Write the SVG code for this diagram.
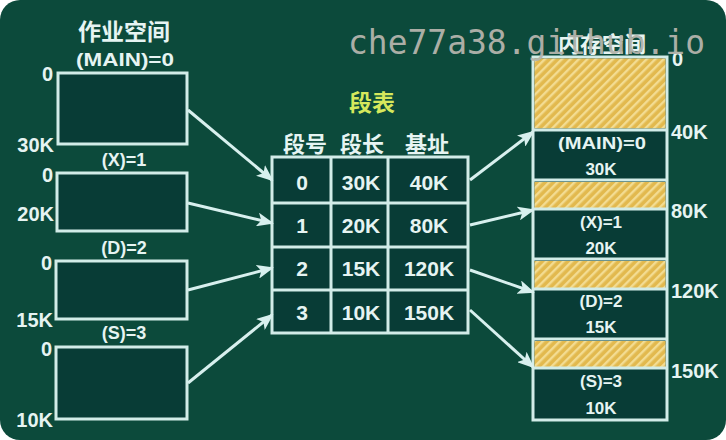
<svg xmlns="http://www.w3.org/2000/svg" width="726" height="440" viewBox="0 0 726 440">
<defs>
<style>
.t{font-family:"Liberation Sans","Noto Sans CJK SC",sans-serif;font-weight:bold;fill:#e6f4f2;text-anchor:middle;dominant-baseline:central}
.cn{font-family:"Noto Sans CJK SC","Liberation Sans",sans-serif;font-weight:bold;fill:#e6f4f2;text-anchor:middle;dominant-baseline:central}
.r{text-anchor:end}
.l{text-anchor:start}
.box{fill:#083c36;stroke:#d2ece8;stroke-width:3}
.line{stroke:#d2ece8;stroke-width:3;fill:none}
.conn{stroke:#d8f0ee;stroke-width:3;fill:none;marker-end:url(#ah)}
.hat{fill:url(#hatch);stroke:none}
</style>
<pattern id="hatch" patternUnits="userSpaceOnUse" width="6" height="6" patternTransform="rotate(45)">
<rect width="6" height="6" fill="#e2b94e"/>
<rect width="2.4" height="6" fill="#f3dc92"/>
</pattern>
<marker id="ah" markerWidth="17" markerHeight="14" refX="15" refY="7" orient="auto" markerUnits="userSpaceOnUse">
<path d="M0,0 L17,7 L0,14 L4,7 Z" fill="#d8f0ee"/>
</marker>
</defs>
<rect width="726" height="440" fill="#ffffff"/>
<rect width="726" height="440" rx="20" fill="#0c4a3b"/>

<g id="job-space">
<text class="cn" x="124" y="30" font-size="23">作业空间</text>
<g id="job-main">
<text class="t" x="125" y="60" font-size="18" textLength="98" lengthAdjust="spacingAndGlyphs">(MAIN)=0</text>
<rect class="box" x="58" y="73" width="129" height="71"/>
<text class="t r" x="53" y="74" font-size="20">0</text>
<text class="t r" x="54" y="145" font-size="20">30K</text>
</g>
<g id="job-x">
<text class="t" x="124" y="160" font-size="18">(X)=1</text>
<rect class="box" x="57" y="173" width="130" height="58"/>
<text class="t r" x="53" y="175" font-size="20">0</text>
<text class="t r" x="54" y="214" font-size="20">20K</text>
</g>
<g id="job-d">
<text class="t" x="124" y="248" font-size="18">(D)=2</text>
<rect class="box" x="56" y="261" width="131" height="58"/>
<text class="t r" x="52" y="263" font-size="20">0</text>
<text class="t r" x="53" y="320" font-size="20">15K</text>
</g>
<g id="job-s">
<text class="t" x="124" y="333" font-size="18">(S)=3</text>
<rect class="box" x="56" y="347" width="131" height="72"/>
<text class="t r" x="52" y="349" font-size="20">0</text>
<text class="t r" x="53" y="420" font-size="20">10K</text>
</g>
</g>

<g id="segment-table">
<text class="cn" x="372" y="101" font-size="23" style="fill:#d6e85c">段表</text>
<text class="cn" x="305" y="142" font-size="22">段号</text>
<text class="cn" x="362" y="142" font-size="22">段长</text>
<text class="cn" x="427" y="142" font-size="22">基址</text>
<rect class="box" x="272" y="157" width="196" height="176"/>
<line class="line" x1="272" y1="203" x2="468" y2="203"/>
<line class="line" x1="272" y1="247" x2="468" y2="247"/>
<line class="line" x1="272" y1="290" x2="468" y2="290"/>
<line class="line" x1="331" y1="157" x2="331" y2="333"/>
<line class="line" x1="388" y1="157" x2="388" y2="333"/>
<text class="t" x="302" y="182" font-size="21">0</text>
<text class="t" x="361" y="182" font-size="21">30K</text>
<text class="t" x="429" y="182" font-size="21">40K</text>
<text class="t" x="302" y="225" font-size="21">1</text>
<text class="t" x="361" y="225" font-size="21">20K</text>
<text class="t" x="429" y="225" font-size="21">80K</text>
<text class="t" x="302" y="268" font-size="21">2</text>
<text class="t" x="361" y="268" font-size="21">15K</text>
<text class="t" x="429" y="268" font-size="21">120K</text>
<text class="t" x="302" y="312" font-size="21">3</text>
<text class="t" x="361" y="312" font-size="21">10K</text>
<text class="t" x="429" y="312" font-size="21">150K</text>
</g>

<g id="memory">
<text class="cn" x="602" y="42" font-size="22">内存空间</text>
<rect class="box" x="533" y="57" width="134" height="363"/>
<rect class="hat" x="534.5" y="58.5" width="131" height="70"/>
<rect class="hat" x="534.5" y="182" width="131" height="27"/>
<rect class="hat" x="534.5" y="261" width="131" height="27"/>
<rect class="hat" x="534.5" y="341" width="131" height="26"/>
<line class="line" x1="533" y1="130" x2="667" y2="130"/>
<line class="line" x1="533" y1="180" x2="667" y2="180"/>
<line class="line" x1="533" y1="209" x2="667" y2="209"/>
<line class="line" x1="533" y1="259" x2="667" y2="259"/>
<line class="line" x1="533" y1="289" x2="667" y2="289"/>
<line class="line" x1="533" y1="339" x2="667" y2="339"/>
<line class="line" x1="533" y1="368" x2="667" y2="368"/>
<text class="t" x="602" y="143" font-size="17" textLength="88" lengthAdjust="spacingAndGlyphs">(MAIN)=0</text>
<text class="t" x="601" y="169" font-size="17">30K</text>
<text class="t" x="601" y="222" font-size="17">(X)=1</text>
<text class="t" x="601" y="248" font-size="17">20K</text>
<text class="t" x="601" y="301" font-size="17">(D)=2</text>
<text class="t" x="601" y="327" font-size="17">15K</text>
<text class="t" x="601" y="381" font-size="17">(S)=3</text>
<text class="t" x="601" y="408" font-size="17">10K</text>
<text class="t l" x="672" y="59" font-size="20">0</text>
<text class="t l" x="671" y="132" font-size="20">40K</text>
<text class="t l" x="671" y="211" font-size="20">80K</text>
<text class="t l" x="671" y="291" font-size="20">120K</text>
<text class="t l" x="671" y="371" font-size="20">150K</text>
</g>

<g id="connectors">
<line class="conn" x1="188" y1="110" x2="272" y2="180"/>
<line class="conn" x1="188" y1="203" x2="272" y2="223"/>
<line class="conn" x1="188" y1="290" x2="272" y2="268"/>
<line class="conn" x1="188" y1="383" x2="272" y2="315"/>
<line class="conn" x1="470" y1="180" x2="533" y2="132"/>
<line class="conn" x1="470" y1="225" x2="533" y2="210"/>
<line class="conn" x1="470" y1="270" x2="533" y2="292"/>
<line class="conn" x1="470" y1="310" x2="533" y2="367"/>
</g>

<text x="348" y="54" font-family="DejaVu Sans Mono, monospace" font-size="33" fill="#b4b4ac" textLength="357" lengthAdjust="spacingAndGlyphs" opacity="0.95">che77a38.github.io</text>
</svg>
